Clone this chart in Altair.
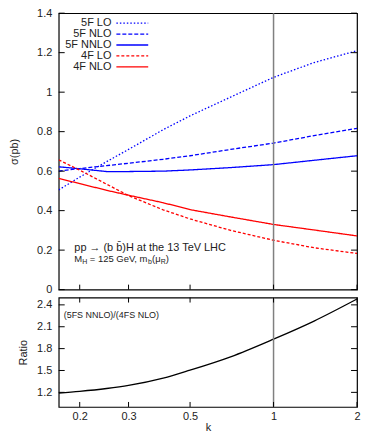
import altair as alt
import pandas as pd

# ---- data ----
k = [0.168, 0.2, 0.25, 0.3, 0.4, 0.5, 0.7, 1.0, 1.4, 2.0]
lo_5f = [0.505, 0.57, 0.648, 0.71, 0.81, 0.88, 0.975, 1.075, 1.15, 1.21]
nlo_5f = [0.60, 0.613, 0.628, 0.64, 0.66, 0.678, 0.71, 0.742, 0.78, 0.817]
nnlo_5f = [0.622, 0.612, 0.598, 0.598, 0.60, 0.606, 0.618, 0.633, 0.655, 0.678]
lo_4f = [0.657, 0.605, 0.534, 0.476, 0.404, 0.358, 0.30, 0.25, 0.212, 0.183]
nlo_4f = [0.563, 0.537, 0.503, 0.478, 0.44, 0.405, 0.368, 0.33, 0.302, 0.272]
ratio = [1.19, 1.214, 1.253, 1.295, 1.395, 1.505, 1.688, 1.93, 2.178, 2.48]

series_names = ["5F LO", "5F NLO", "5F NNLO", "4F LO", "4F NLO"]
series_vals = [lo_5f, nlo_5f, nnlo_5f, lo_4f, nlo_4f]

x_ticks = [0.2, 0.3, 0.5, 1, 2]
y_ticks_top = [0, 0.2, 0.4, 0.6, 0.8, 1.0, 1.2, 1.4]
y_ticks_bot = [1.2, 1.5, 1.8, 2.1, 2.4]
k_mark = [1.0]

# ---- styling ----
W, H1, H2 = 300, 278, 110
FONT = "Liberation Sans"
TXT = "#222222"
colors = ["#0000ff", "#0000ff", "#0000ff", "#ff0000", "#ff0000"]
dashes = [[1.5, 2], [4, 2], [1, 0], [3, 2], [1, 0]]
TL = 6  # tick length

rows = []
for name, vals in zip(series_names, series_vals):
    for kk, v in zip(k, vals):
        rows.append({"k": kk, "sigma": v, "series": name})
df = pd.DataFrame(rows)
df_ratio = pd.DataFrame({"k": k, "ratio": ratio})

xs = alt.Scale(type="log", domain=[0.168, 2])
ys_top = alt.Scale(domain=[0, 1.4])
ys_bot = alt.Scale(domain=[1.0, 2.5])
col_scale = alt.Scale(domain=series_names, range=colors)
dash_scale = alt.Scale(domain=series_names, range=dashes)

ax_y_top = alt.Axis(values=y_ticks_top, format="~g", title="σ(pb)",
                    tickSize=0, domain=False, grid=False,
                    labelPadding=7, titleX=-39, labelOverlap=False)
ax_y_bot = alt.Axis(values=y_ticks_bot, format=".1f", title="Ratio",
                    tickSize=0, domain=False, grid=False,
                    labelPadding=7, titleX=-30, labelOverlap=False)
ax_x_bot = alt.Axis(values=x_ticks, format="~g", title="k", tickSize=0,
                    domain=False, grid=False, labelPadding=4,
                    titlePadding=0, labelFlush=False, labelOverlap=False)

# ---------------- top panel ----------------
lines = alt.Chart(df).mark_line(strokeWidth=1.3, clip=True).encode(
    x=alt.X("k:Q", scale=xs, axis=None),
    y=alt.Y("sigma:Q", scale=ys_top, axis=ax_y_top),
    color=alt.Color("series:N", scale=col_scale, legend=None),
    strokeDash=alt.StrokeDash("series:N", scale=dash_scale, legend=None),
)

vline_top = alt.Chart(pd.DataFrame({"k": k_mark})).mark_rule(
    color="#808080", strokeWidth=1.5).encode(x=alt.X("k:Q", scale=xs, axis=None))

yt_df = pd.DataFrame({"sigma": y_ticks_top})
tick_l_top = alt.Chart(yt_df).mark_rule(color="black").encode(
    x=alt.value(0), x2=alt.value(TL), y=alt.Y("sigma:Q", scale=ys_top, axis=ax_y_top))
tick_r_top = alt.Chart(yt_df).mark_rule(color="black").encode(
    x=alt.value(W - TL), x2=alt.value(W), y=alt.Y("sigma:Q", scale=ys_top, axis=ax_y_top))
xt_df = pd.DataFrame({"k": x_ticks})
tick_b_top = alt.Chart(xt_df).mark_rule(color="black").encode(
    x=alt.X("k:Q", scale=xs, axis=None), y=alt.value(H1), y2=alt.value(H1 - 5))

# manual legend (labels on the left, samples on the right)
legend_layers = []
for i, name in enumerate(series_names):
    yy = 10 + 11 * i
    one = pd.DataFrame({"series": [name]})
    legend_layers.append(
        alt.Chart(one).mark_text(align="right", baseline="middle", font=FONT,
                                 fontSize=11, color=TXT).encode(
            text="series:N", x=alt.value(53), y=alt.value(yy)))
    legend_layers.append(
        alt.Chart(one).mark_rule(strokeWidth=1.3).encode(
            x=alt.value(58), x2=alt.value(90), y=alt.value(yy),
            color=alt.Color("series:N", scale=col_scale, legend=None),
            strokeDash=alt.StrokeDash("series:N", scale=dash_scale, legend=None)))

# annotation text
ann = []
def txt(s, x, y, size, base="alphabetic"):
    return alt.Chart(pd.DataFrame({"t": [s]})).mark_text(
        align="left", baseline=base, font=FONT, fontSize=size, color=TXT).encode(
        text="t:N", x=alt.value(x), y=alt.value(y))

ann.append(txt("pp → (b b\u0304)H at the 13 TeV LHC", 15.7, 239, 11))
ann.append(txt("M", 15.7, 250, 9.5))
ann.append(txt("H", 23.6, 252.5, 7))
ann.append(txt("= 125 GeV, m", 31.3, 250, 9.5))
ann.append(txt("b", 89.9, 252.5, 7))
ann.append(txt("(μ", 93.8, 250, 9.5))
ann.append(txt("R", 102.5, 252.5, 7))
ann.append(txt(")", 107.6, 250, 9.5))

top = alt.layer(lines, vline_top, tick_l_top, tick_r_top, tick_b_top,
                *legend_layers, *ann).properties(width=W, height=H1)

# ---------------- bottom panel ----------------
rline = alt.Chart(df_ratio).mark_line(color="black", strokeWidth=1.3, clip=True,
                                      interpolate="monotone").encode(
    x=alt.X("k:Q", scale=xs, axis=ax_x_bot),
    y=alt.Y("ratio:Q", scale=ys_bot, axis=ax_y_bot),
)
vline_bot = alt.Chart(pd.DataFrame({"k": k_mark})).mark_rule(
    color="#808080", strokeWidth=1.5).encode(x=alt.X("k:Q", scale=xs, axis=ax_x_bot))

ybt_df = pd.DataFrame({"ratio": y_ticks_bot})
tick_l_bot = alt.Chart(ybt_df).mark_rule(color="black").encode(
    x=alt.value(0), x2=alt.value(TL), y=alt.Y("ratio:Q", scale=ys_bot, axis=ax_y_bot))
tick_r_bot = alt.Chart(ybt_df).mark_rule(color="black").encode(
    x=alt.value(W - TL), x2=alt.value(W), y=alt.Y("ratio:Q", scale=ys_bot, axis=ax_y_bot))
tick_b_bot = alt.Chart(xt_df).mark_rule(color="black").encode(
    x=alt.X("k:Q", scale=xs, axis=ax_x_bot), y=alt.value(H2), y2=alt.value(H2 - 5))
tick_t_bot = alt.Chart(xt_df).mark_rule(color="black").encode(
    x=alt.X("k:Q", scale=xs, axis=ax_x_bot), y=alt.value(0), y2=alt.value(5))

rlabel = txt("(5FS NNLO)/(4FS NLO)", 5, 18, 9, base="middle")

bottom = alt.layer(rline, vline_bot, tick_l_bot, tick_r_bot, tick_b_bot,
                   tick_t_bot, rlabel).properties(width=W, height=H2)

chart = alt.vconcat(top, bottom, spacing=0).resolve_scale(
    x="independent", y="independent"
).properties(
    padding={"left": 0, "top": -3, "right": 0, "bottom": 0}
).configure_view(
    stroke="black", strokeWidth=1.2
).configure_axis(
    labelFont=FONT, titleFont=FONT, labelFontSize=11, titleFontSize=11,
    labelColor=TXT, titleColor=TXT, titleFontWeight="normal", grid=False,
    labelOverlap=False
)

chart.save("out.html", embed_options={"renderer": "svg", "actions": False})
